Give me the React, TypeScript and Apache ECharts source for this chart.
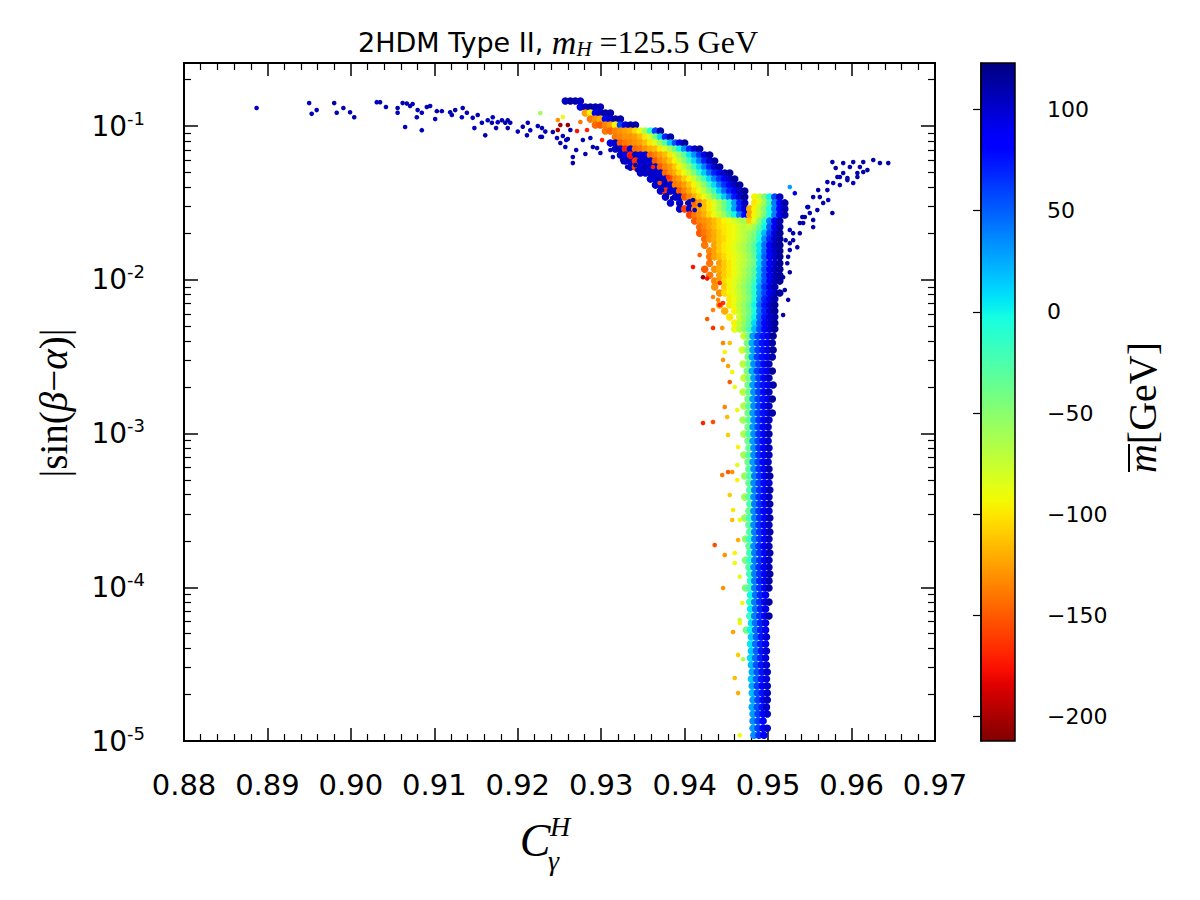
import React, { useEffect, useRef } from 'react';
import * as echarts from 'echarts';

type Pt = [number, number, number];
type Row = [number, number[], number[]];

// ---------- axis / colour-bar settings ----------
const X_MIN = 0.88;
const X_MAX = 0.97;
const X_STEP = 0.01;
const Y_MIN = 1e-5;
const Y_MAX = 0.257;
const CB_MIN = -212;
const CB_MAX = 123;
const cbTickValues = [-200, -150, -100, -50, 0, 50, 100];
const yDecades = [1e-5, 1e-4, 1e-3, 1e-2, 1e-1];
const yMinorMult = [2, 3, 4, 5, 6, 7, 8, 9];

const tailPoints: Pt[] = [
  [0.8887, 0.131, 105], [0.8950, 0.141, 105], [0.8953, 0.120, 108], [0.8959, 0.127, 105], [0.8980, 0.141, 110],
  [0.8983, 0.122, 105], [0.8991, 0.131, 108], [0.8999, 0.123, 105], [0.9004, 0.114, 110], [0.9031, 0.143, 105],
  [0.9035, 0.143, 108], [0.9042, 0.133, 105], [0.9056, 0.131, 110], [0.9056, 0.122, 105], [0.9065, 0.0985, 105],
  [0.9062, 0.141, 108], [0.9067, 0.140, 105], [0.9071, 0.135, 110], [0.9074, 0.139, 105], [0.9080, 0.127, 108],
  [0.9085, 0.122, 105], [0.9091, 0.133, 110], [0.9095, 0.135, 105], [0.9079, 0.114, 105], [0.9085, 0.094, 108],
  [0.9101, 0.111, 105], [0.9103, 0.125, 110], [0.9109, 0.125, 105], [0.9119, 0.123, 108], [0.9121, 0.118, 105],
  [0.9125, 0.127, 110], [0.9133, 0.114, 105], [0.9134, 0.131, 108], [0.9139, 0.122, 105], [0.9146, 0.113, 110],
  [0.9148, 0.097, 105], [0.9152, 0.118, 108], [0.9157, 0.105, 105], [0.9161, 0.087, 110], [0.9164, 0.109, 105],
  [0.9169, 0.105, 108], [0.9170, 0.114, 105], [0.9174, 0.097, 110], [0.9176, 0.106, 105], [0.9181, 0.109, 108],
  [0.9185, 0.105, 105], [0.9188, 0.109, 110], [0.9191, 0.105, 105], [0.9188, 0.097, 108], [0.9200, 0.092, 105],
  [0.9206, 0.099, 110], [0.9212, 0.105, 105], [0.9211, 0.087, 108], [0.9215, 0.094, 105], [0.9224, 0.100, 110],
  [0.9227, 0.085, 105], [0.9229, 0.097, 108], [0.9233, 0.092, 105], [0.9229, 0.085, 110],
];

const mixedPoints: Pt[] = [
  [0.9227, 0.1215, -60], [0.9254, 0.1144, -90], [0.9248, 0.1094, -130], [0.9251, 0.1015, -200],
  [0.9260, 0.1015, -205], [0.9271, 0.0928, -175], [0.9248, 0.0942, -200], [0.9275, 0.1062, -140],
  [0.9283, 0.0942, -170], [0.9301, 0.0811, -170], [0.9335, 0.0629, -175], [0.9362, 0.0541, -170],
  [0.9380, 0.0466, -165], [0.9370, 0.0426, -155], [0.9410, 0.0121, -175], [0.9422, 0.0104, -205],
  [0.9427, 0.0102, -175], [0.9442, 0.00953, -170], [0.9434, 0.00772, -135], [0.9446, 0.00706, -165],
  [0.9418, 0.01449, -150],
];

const innerBluePoints: Pt[] = [
  [0.9242, 0.0914, 110], [0.9247, 0.0836, 105], [0.9251, 0.0775, 110], [0.9254, 0.0861, 108], [0.9257, 0.0730, 105],
  [0.9260, 0.0823, 110], [0.9266, 0.0629, 108], [0.9266, 0.0574, 110], [0.9270, 0.0698, 105], [0.9263, 0.0942, 110],
  [0.9258, 0.0811, 108], [0.9278, 0.0811, 110], [0.9287, 0.0836, 105], [0.9290, 0.0730, 110], [0.9299, 0.0668, 108],
  [0.9311, 0.0698, 110], [0.9314, 0.0629, 105], [0.9325, 0.0601, 110], [0.9331, 0.0541, 108], [0.9343, 0.0517, 110],
  [0.9350, 0.0502, 105], [0.9281, 0.0658, 110], [0.9295, 0.0719, 108], [0.9319, 0.0719, 110], [0.9326, 0.0583, 105],
  [0.9341, 0.0557, 110], [0.9403, 0.0316, 108], [0.9410, 0.0330, 110], [0.9373, 0.0383, 105], [0.9379, 0.0356, 110],
  [0.9385, 0.0340, 108], [0.9394, 0.0306, 110], [0.9412, 0.0284, 105], [0.9418, 0.0306, 110],
];

const rightArmPoints: Pt[] = [
  [0.9526, 0.0401, 30], [0.9532, 0.0366, 90], [0.9547, 0.0297, 110], [0.9550, 0.0272, 105], [0.9554, 0.0245, 110],
  [0.9542, 0.0234, 105], [0.9538, 0.0201, 110], [0.9530, 0.0181, 110], [0.9526, 0.0156, 105], [0.9523, 0.0128, 110],
  [0.9518, 0.0104, 110], [0.9562, 0.0345, 110], [0.9566, 0.0316, 110], [0.9572, 0.0330, 105], [0.9577, 0.0272, 110],
  [0.9559, 0.0284, 110], [0.9571, 0.0383, 110], [0.9578, 0.0426, 105], [0.9583, 0.0466, 110], [0.9590, 0.0495, 110],
  [0.9595, 0.0459, 110], [0.9602, 0.0426, 105], [0.9607, 0.0466, 110], [0.9614, 0.0502, 110], [0.9586, 0.0413, 110],
  [0.9554, 0.0220, 110], [0.9535, 0.0163, 110], [0.9526, 0.0211, 105], [0.9541, 0.0256, 110], [0.9577, 0.0583, 110],
  [0.9581, 0.0533, 110], [0.9586, 0.0466, 105], [0.9590, 0.0574, 110], [0.9595, 0.0445, 110], [0.9598, 0.0541, 110],
  [0.9602, 0.0583, 110], [0.9607, 0.0495, 110], [0.9610, 0.0541, 105], [0.9614, 0.0583, 110], [0.9619, 0.0517, 110],
  [0.9626, 0.0601, 110], [0.9634, 0.0574, 110], [0.9644, 0.0574, 110], [0.9571, 0.0432, 110], [0.9560, 0.0383, 110],
  [0.9554, 0.0345, 110], [0.9548, 0.0297, 105], [0.9544, 0.0256, 110], [0.9538, 0.0234, 110], [0.9530, 0.0201, 110],
  [0.9526, 0.0173, 110], [0.9524, 0.0141, 110], [0.9526, 0.0112, 110], [0.9520, 0.00858, 110], [0.9524, 0.0074, 110],
  [0.9518, 0.0059, 110], [0.9521, 0.0181, 110],
];

const spineOutliers: Pt[] = [
  [0.9434, 0.00636, -135], [0.9427, 0.00555, -150], [0.9442, 0.00685, -170], [0.9440, 0.00740, -135],
  [0.9434, 0.00486, -165], [0.9445, 0.00486, -130], [0.9446, 0.00388, -135], [0.9448, 0.00339, -95],
  [0.9454, 0.00388, -115], [0.9446, 0.00301, -130], [0.9452, 0.00275, -125], [0.9457, 0.00251, -95],
  [0.9454, 0.00216, -150], [0.9460, 0.00201, -90], [0.9448, 0.00149, -135], [0.9451, 0.00128, -115],
  [0.9422, 0.00117, -170], [0.9434, 0.00119, -155], [0.9452, 0.000978, -110], [0.9463, 0.00142, -90],
  [0.9464, 0.000817, -95], [0.9463, 0.000624, -85], [0.9445, 0.000537, -140], [0.9452, 0.000562, -150],
  [0.9457, 0.000562, -130], [0.9463, 0.000498, -95], [0.9454, 0.000398, -110], [0.9458, 0.000318, -100],
  [0.9457, 0.000274, -115], [0.9466, 0.000274, -90], [0.9464, 0.000203, -120], [0.9436, 0.000188, -155],
  [0.9448, 0.000162, -130], [0.9460, 0.000167, -95], [0.9460, 0.000144, -90], [0.9466, 0.000117, -85],
  [0.9446, 0.0000989, -130], [0.9469, 0.0000790, -90], [0.9466, 0.0000612, -70], [0.9458, 0.0000512, -125],
  [0.9466, 0.0000585, -95], [0.9464, 0.0000363, -110], [0.9470, 0.0000340, -65], [0.9460, 0.0000257, -115],
  [0.9464, 0.0000205, -120], [0.9466, 0.0000109, -90],
];

// dense upper arc and fork: [y, x values, mbar values]
const arcRows: Row[] = [
  [0.1454, [0.9257, 0.9263, 0.9269, 0.9275], [105, 110, 110, 105]],
  [0.1329, [0.9275, 0.9281, 0.9287, 0.9293, 0.9299], [95, 105, 110, 110, 105]],
  [0.1215, [0.9281, 0.9287, 0.9293, 0.9299, 0.9305, 0.9311], [-125, -95, 90, 105, 110, 110]],
  [0.1110, [0.9287, 0.9293, 0.9299, 0.9305, 0.9311, 0.9317, 0.9323], [-140, -130, -120, 80, 100, 110, 110]],
  [0.1015, [0.9293, 0.9299, 0.9305, 0.9311, 0.9317, 0.9323, 0.9329, 0.9335, 0.9341], [-145, -150, -135, -125, -95, 60, 95, 110, 110]],
  [0.0928, [0.9305, 0.9311, 0.9317, 0.9323, 0.9329, 0.9335, 0.9341, 0.9347, 0.9353, 0.9359, 0.9365, 0.9371], [-140, -145, -135, -130, -125, -120, -105, -90, -60, -10, 60, 110]],
  [0.0848, [0.9317, 0.9323, 0.9329, 0.9335, 0.9341, 0.9347, 0.9353, 0.9359, 0.9365, 0.9371, 0.9377, 0.9383], [-140, -135, -130, -130, -125, -115, -100, -80, -45, 10, 70, 110]],
  [0.0775, [0.9311, 0.9317, 0.9323, 0.9329, 0.9335, 0.9341, 0.9347, 0.9353, 0.9359, 0.9365, 0.9371, 0.9377, 0.9383, 0.9389, 0.9394, 0.9400], [95, 100, -150, -140, -135, -130, -125, -115, -100, -85, -60, -25, 15, 55, 90, 115]],
  [0.0709, [0.9317, 0.9323, 0.9329, 0.9335, 0.9341, 0.9347, 0.9353, 0.9359, 0.9365, 0.9371, 0.9377, 0.9383, 0.9389, 0.9394, 0.9400, 0.9406, 0.9412, 0.9418], [100, 100, -170, 100, -145, -140, -130, -120, -115, -100, -85, -60, -35, 0, 35, 70, 100, 115]],
  [0.0648, [0.9323, 0.9329, 0.9335, 0.9341, 0.9347, 0.9353, 0.9359, 0.9365, 0.9371, 0.9377, 0.9383, 0.9389, 0.9394, 0.9400, 0.9406, 0.9412, 0.9418, 0.9424, 0.9430], [100, 95, -170, 105, 95, 100, -145, -135, -125, -115, -100, -80, -55, -30, 5, 35, 65, 95, 115]],
  [0.0592, [0.9329, 0.9335, 0.9341, 0.9347, 0.9353, 0.9359, 0.9365, 0.9371, 0.9377, 0.9383, 0.9389, 0.9394, 0.9400, 0.9406, 0.9412, 0.9418, 0.9424, 0.9430, 0.9436], [100, 100, -165, 100, 100, 100, -150, -135, -125, -110, -95, -75, -50, -20, 10, 40, 70, 100, 115]],
  [0.0541, [0.9335, 0.9341, 0.9347, 0.9353, 0.9359, 0.9365, 0.9371, 0.9377, 0.9383, 0.9389, 0.9394, 0.9400, 0.9406, 0.9412, 0.9418, 0.9424, 0.9430, 0.9436, 0.9442], [100, -160, 100, 105, 100, 100, -150, -135, -125, -110, -95, -75, -50, -20, 10, 40, 70, 100, 115]],
  [0.0495, [0.9347, 0.9353, 0.9359, 0.9365, 0.9371, 0.9377, 0.9383, 0.9389, 0.9394, 0.9400, 0.9406, 0.9412, 0.9418, 0.9424, 0.9430, 0.9436, 0.9442, 0.9448, 0.9454], [100, 100, 105, 100, 100, -145, -130, -120, -105, -90, -70, -45, -15, 15, 45, 70, 90, 105, 115]],
  [0.0452, [0.9359, 0.9365, 0.9371, 0.9377, 0.9383, 0.9389, 0.9394, 0.9400, 0.9406, 0.9412, 0.9418, 0.9424, 0.9430, 0.9436, 0.9442, 0.9448, 0.9454, 0.9460], [100, 100, 105, 100, -155, -135, -125, -110, -95, -75, -50, -20, 10, 40, 65, 85, 105, 115]],
  [0.0413, [0.9365, 0.9371, 0.9377, 0.9383, 0.9389, 0.9394, 0.9400, 0.9406, 0.9412, 0.9418, 0.9424, 0.9430, 0.9436, 0.9442, 0.9448, 0.9454, 0.9460, 0.9466], [100, 100, 105, 100, -140, -135, -125, -110, -95, -75, -50, -20, 10, 40, 65, 85, 105, 115]],
  [0.0378, [0.9371, 0.9377, 0.9383, 0.9389, 0.9394, 0.9400, 0.9406, 0.9412, 0.9418, 0.9424, 0.9430, 0.9436, 0.9442, 0.9448, 0.9454, 0.9460, 0.9466, 0.9472], [100, -165, 100, 100, -150, -135, -120, -105, -90, -70, -45, -15, 15, 45, 70, 90, 105, 115]],
  [0.0345, [0.9377, 0.9389, 0.9394, 0.9400, 0.9406, 0.9412, 0.9418, 0.9424, 0.9430, 0.9436, 0.9442, 0.9448, 0.9454, 0.9460, 0.9466, 0.9472, 0.9484, 0.9490, 0.9496, 0.9502, 0.9508, 0.9514], [100, 100, 105, -150, -135, -120, -105, -90, -70, -45, -15, 15, 45, 75, 100, 115, -95, -80, -45, 0, 60, 105]],
  [0.0316, [0.9383, 0.9394, 0.9406, 0.9412, 0.9418, 0.9424, 0.9430, 0.9436, 0.9442, 0.9448, 0.9454, 0.9460, 0.9466, 0.9472, 0.9484, 0.9490, 0.9496, 0.9502, 0.9508, 0.9514, 0.9520], [100, 100, 105, -145, -130, -115, -100, -85, -65, -40, -10, 30, 70, 105, -100, -85, -60, -20, 40, 85, 110]],
  [0.0289, [0.9394, 0.9400, 0.9406, 0.9412, 0.9418, 0.9424, 0.9430, 0.9436, 0.9442, 0.9448, 0.9454, 0.9460, 0.9466, 0.9472, 0.9478, 0.9484, 0.9490, 0.9496, 0.9502, 0.9508, 0.9514, 0.9520], [100, -160, 100, -140, -125, -115, -100, -85, -65, -40, -10, 30, 70, 100, -120, -95, -75, -45, -5, 40, 85, 110]],
  [0.0264, [0.9406, 0.9412, 0.9418, 0.9424, 0.9430, 0.9436, 0.9442, 0.9448, 0.9454, 0.9460, 0.9466, 0.9472, 0.9478, 0.9484, 0.9490, 0.9496, 0.9502, 0.9508, 0.9514, 0.9520], [-160, -140, -130, -120, -105, -90, -75, -55, -30, 0, 40, 80, -125, -95, -75, -45, -5, 40, 85, 110]],
];

const mergeRows: Row[] = [
  [0.0241, [0.9412, 0.9418, 0.9424, 0.9430, 0.9436, 0.9442, 0.9448, 0.9454, 0.9460, 0.9466, 0.9472, 0.9478, 0.9484, 0.9490, 0.9496, 0.9502, 0.9508, 0.9514], [-150, -135, -130, -125, -115, -105, -95, -90, -80, -70, -60, -110, -85, -50, -10, 40, 85, 110]],
  [0.0220, [0.9418, 0.9424, 0.9430, 0.9436, 0.9442, 0.9448, 0.9454, 0.9460, 0.9466, 0.9472, 0.9478, 0.9484, 0.9490, 0.9496, 0.9502, 0.9508, 0.9514], [-145, -135, -125, -115, -105, -100, -95, -90, -80, -70, -75, -60, -35, 0, 50, 90, 110]],
  [0.0201, [0.9418, 0.9424, 0.9430, 0.9436, 0.9442, 0.9448, 0.9454, 0.9460, 0.9466, 0.9472, 0.9478, 0.9484, 0.9490, 0.9496, 0.9502, 0.9508, 0.9514], [-150, -140, -130, -120, -110, -100, -95, -90, -80, -70, -60, -45, -15, 20, 60, 95, 115]],
  [0.0184, [0.9424, 0.9430, 0.9436, 0.9442, 0.9448, 0.9454, 0.9460, 0.9466, 0.9472, 0.9478, 0.9484, 0.9490, 0.9496, 0.9502, 0.9508, 0.9514], [-145, -130, -120, -110, -105, -95, -90, -80, -70, -55, -40, -5, 35, 70, 100, 115]],
  [0.0168, [0.9424, 0.9436, 0.9442, 0.9448, 0.9454, 0.9460, 0.9466, 0.9472, 0.9478, 0.9484, 0.9490, 0.9496, 0.9502, 0.9508, 0.9514], [-140, -125, -110, -100, -95, -85, -75, -65, -50, -30, 5, 45, 80, 105, 115]],
  [0.0154, [0.9430, 0.9436, 0.9442, 0.9448, 0.9454, 0.9460, 0.9466, 0.9472, 0.9478, 0.9484, 0.9490, 0.9496, 0.9502, 0.9508, 0.9514], [-135, -125, -110, -100, -95, -85, -75, -65, -50, -30, 5, 45, 80, 100, 115]],
  [0.0141, [0.9430, 0.9436, 0.9442, 0.9448, 0.9454, 0.9460, 0.9466, 0.9472, 0.9478, 0.9484, 0.9490, 0.9496, 0.9502, 0.9508, 0.9514], [-140, -125, -115, -105, -95, -90, -80, -70, -55, -35, 10, 50, 80, 100, 115]],
  [0.0128, [0.9430, 0.9442, 0.9448, 0.9454, 0.9460, 0.9466, 0.9472, 0.9478, 0.9484, 0.9490, 0.9496, 0.9502, 0.9508, 0.9514], [-140, -125, -110, -100, -90, -80, -70, -55, -40, 10, 50, 80, 100, 115]],
  [0.0117, [0.9424, 0.9436, 0.9442, 0.9448, 0.9454, 0.9460, 0.9466, 0.9472, 0.9478, 0.9484, 0.9490, 0.9496, 0.9502, 0.9508, 0.9514], [-150, -130, -120, -110, -100, -90, -80, -65, -50, -30, 15, 55, 85, 105, 115]],
  [0.0107, [0.9430, 0.9442, 0.9448, 0.9454, 0.9460, 0.9466, 0.9472, 0.9478, 0.9484, 0.9490, 0.9496, 0.9502, 0.9508, 0.9514], [-140, -125, -110, -100, -90, -80, -65, -50, -30, 15, 55, 85, 105, 115]],
  [0.00981, [0.9436, 0.9442, 0.9448, 0.9454, 0.9460, 0.9466, 0.9472, 0.9478, 0.9484, 0.9490, 0.9496, 0.9502, 0.9508, 0.9514], [-135, -125, -105, -95, -85, -75, -60, -45, -20, 20, 55, 85, 105, 115]],
  [0.00897, [0.9436, 0.9448, 0.9454, 0.9460, 0.9466, 0.9472, 0.9478, 0.9484, 0.9490, 0.9496, 0.9502, 0.9508], [-130, -110, -95, -85, -70, -55, -40, -10, 30, 65, 95, 110]],
  [0.00820, [0.9442, 0.9448, 0.9454, 0.9460, 0.9466, 0.9472, 0.9478, 0.9484, 0.9490, 0.9496, 0.9502, 0.9508, 0.9514], [-135, -105, -95, -85, -75, -60, -40, -10, 30, 60, 85, 105, 115]],
  [0.00750, [0.9454, 0.9460, 0.9466, 0.9472, 0.9478, 0.9484, 0.9490, 0.9496, 0.9502, 0.9508], [-100, -90, -75, -60, -45, -10, 35, 70, 95, 110]],
  [0.00685, [0.9442, 0.9454, 0.9460, 0.9466, 0.9472, 0.9478, 0.9484, 0.9490, 0.9496, 0.9502, 0.9508], [-125, -100, -90, -70, -55, -35, 0, 45, 75, 100, 115]],
  [0.00626, [0.9448, 0.9460, 0.9466, 0.9472, 0.9478, 0.9484, 0.9490, 0.9496, 0.9502, 0.9508], [-120, -95, -75, -55, -40, -5, 40, 70, 100, 115]],
  [0.00572, [0.9454, 0.9466, 0.9472, 0.9478, 0.9484, 0.9490, 0.9496, 0.9502, 0.9508], [-100, -80, -55, -35, 0, 45, 75, 100, 110]],
  [0.00523, [0.9460, 0.9466, 0.9472, 0.9478, 0.9484, 0.9490, 0.9496, 0.9502, 0.9508], [-95, -75, -55, -30, 10, 50, 80, 100, 115]],
  [0.00478, [0.9460, 0.9466, 0.9472, 0.9478, 0.9484, 0.9490, 0.9496, 0.9502, 0.9508], [-90, -70, -50, -20, 20, 55, 80, 100, 115]],
];

const spineRows: Row[] = [
  [0.004306, [0.9471, 0.9477, 0.9482, 0.9488, 0.9494, 0.9500, 0.9506], [-75, -40, 30, 60, 75, 90, 115]],
  [0.003879, [0.9475, 0.9481, 0.9487, 0.9493, 0.9499, 0.9505], [-45, 25, 55, 75, 90, 110]],
  [0.003492, [0.9469, 0.9476, 0.9482, 0.9488, 0.9494, 0.9500, 0.9506], [-80, -40, 30, 60, 75, 95, 115]],
  [0.003145, [0.9476, 0.9481, 0.9487, 0.9493, 0.9499, 0.9505], [-45, 25, 60, 75, 90, 110]],
  [0.002831, [0.9470, 0.9477, 0.9483, 0.9489, 0.9495, 0.9501], [-70, -35, 35, 60, 80, 105]],
  [0.002549, [0.9475, 0.9481, 0.9487, 0.9493, 0.9499, 0.9505], [-45, 25, 60, 75, 90, 115]],
  [0.002296, [0.9471, 0.9477, 0.9483, 0.9489, 0.9495, 0.9501], [-75, -40, 30, 60, 80, 105]],
  [0.002067, [0.9476, 0.9482, 0.9488, 0.9494, 0.9500, 0.9506], [-40, 30, 60, 75, 90, 110]],
  [0.001862, [0.9470, 0.9477, 0.9483, 0.9489, 0.9495, 0.9501], [-70, -35, 35, 60, 80, 105]],
  [0.001676, [0.9476, 0.9482, 0.9488, 0.9494, 0.9500, 0.9505], [-40, 30, 60, 75, 90, 115]],
  [0.001510, [0.9471, 0.9477, 0.9483, 0.9489, 0.9495, 0.9501], [-65, -30, 35, 60, 80, 105]],
  [0.001359, [0.9476, 0.9482, 0.9488, 0.9494, 0.9500, 0.9505], [-40, 30, 60, 75, 95, 110]],
  [0.001224, [0.9470, 0.9477, 0.9483, 0.9489, 0.9495, 0.9501], [-60, -30, 35, 65, 85, 105]],
  [0.001102, [0.9476, 0.9482, 0.9488, 0.9494, 0.9500], [-40, 30, 60, 80, 100]],
  [0.000992, [0.9471, 0.9477, 0.9483, 0.9489, 0.9495, 0.9501], [-65, -25, 35, 65, 85, 110]],
  [0.000894, [0.9476, 0.9482, 0.9488, 0.9494, 0.9500], [-40, 30, 60, 80, 100]],
  [0.000805, [0.9477, 0.9483, 0.9489, 0.9495, 0.9501], [-35, 35, 65, 85, 105]],
  [0.000725, [0.9471, 0.9477, 0.9483, 0.9489, 0.9495, 0.9501], [-60, -30, 35, 65, 85, 105]],
  [0.000653, [0.9476, 0.9482, 0.9488, 0.9494, 0.9500], [-40, 30, 60, 80, 100]],
  [0.000588, [0.9477, 0.9483, 0.9489, 0.9495, 0.9501], [-30, 35, 65, 85, 110]],
  [0.000529, [0.9472, 0.9478, 0.9484, 0.9490, 0.9496, 0.9502], [-55, -25, 40, 65, 85, 110]],
  [0.000476, [0.9477, 0.9483, 0.9489, 0.9495, 0.9501], [-35, 35, 60, 85, 100]],
  [0.000429, [0.9478, 0.9484, 0.9490, 0.9496, 0.9502], [-25, 40, 65, 85, 110]],
  [0.000386, [0.9472, 0.9477, 0.9483, 0.9489, 0.9495, 0.9501], [-60, -30, 35, 65, 85, 105]],
  [0.000348, [0.9478, 0.9484, 0.9490, 0.9496, 0.9502], [-25, 40, 65, 85, 110]],
  [0.000313, [0.9477, 0.9483, 0.9489, 0.9495, 0.9501], [-35, 35, 65, 85, 100]],
  [0.000282, [0.9472, 0.9478, 0.9484, 0.9490, 0.9496, 0.9502], [-55, -20, 40, 65, 85, 110]],
  [0.000254, [0.9477, 0.9483, 0.9489, 0.9495, 0.9501], [-30, 35, 65, 85, 105]],
  [0.000229, [0.9478, 0.9484, 0.9490, 0.9496, 0.9502], [-25, 40, 65, 85, 110]],
  [0.000206, [0.9473, 0.9478, 0.9484, 0.9490, 0.9496, 0.9501], [-50, -15, 40, 65, 85, 105]],
  [0.000185, [0.9477, 0.9483, 0.9489, 0.9495, 0.9501], [-30, 35, 65, 85, 105]],
  [0.000167, [0.9478, 0.9484, 0.9490, 0.9496, 0.9502], [-20, 40, 65, 85, 110]],
  [0.000150, [0.9473, 0.9478, 0.9484, 0.9490, 0.9496, 0.9501], [-45, -15, 40, 65, 85, 105]],
  [0.000135, [0.9477, 0.9483, 0.9489, 0.9495, 0.9501], [-25, 35, 65, 85, 105]],
  [0.000122, [0.9478, 0.9484, 0.9490, 0.9496, 0.9502], [-20, 40, 65, 85, 110]],
  [0.000110, [0.9479, 0.9484, 0.9490, 0.9496, 0.9501], [-10, 40, 70, 90, 110]],
  [0.0000989, [0.9473, 0.9478, 0.9484, 0.9490, 0.9496, 0.9501], [-45, -20, 40, 65, 85, 110]],
  [0.0000890, [0.9479, 0.9485, 0.9491, 0.9497], [0, 45, 70, 90]],
  [0.0000802, [0.9478, 0.9484, 0.9490, 0.9496, 0.9501], [-15, 40, 65, 85, 110]],
  [0.0000722, [0.9479, 0.9485, 0.9491, 0.9497], [5, 45, 70, 95]],
  [0.0000650, [0.9478, 0.9484, 0.9490, 0.9496, 0.9501], [-15, 40, 65, 85, 110]],
  [0.0000585, [0.9480, 0.9485, 0.9491, 0.9497], [10, 45, 70, 95]],
  [0.0000527, [0.9474, 0.9479, 0.9485, 0.9491, 0.9497], [-40, 0, 45, 70, 90]],
  [0.0000475, [0.9480, 0.9486, 0.9492, 0.9498], [15, 50, 75, 100]],
  [0.0000427, [0.9479, 0.9485, 0.9491, 0.9497], [5, 45, 70, 90]],
  [0.0000385, [0.9480, 0.9486, 0.9492, 0.9498], [15, 50, 75, 100]],
  [0.0000347, [0.9479, 0.9485, 0.9491, 0.9497], [10, 45, 70, 95]],
  [0.0000312, [0.9480, 0.9486, 0.9492, 0.9498], [20, 55, 75, 100]],
  [0.0000281, [0.9481, 0.9487, 0.9493, 0.9499], [25, 55, 75, 100]],
  [0.0000253, [0.9480, 0.9486, 0.9492, 0.9498], [15, 50, 75, 95]],
  [0.0000228, [0.9481, 0.9487, 0.9493, 0.9499], [25, 60, 80, 100]],
  [0.0000205, [0.9481, 0.9487, 0.9493, 0.9499], [20, 55, 75, 100]],
  [0.0000185, [0.9482, 0.9488, 0.9494, 0.9499], [30, 60, 80, 105]],
  [0.0000166, [0.9481, 0.9487, 0.9493, 0.9498], [25, 55, 75, 100]],
  [0.0000150, [0.9482, 0.9488, 0.9494, 0.9499], [30, 60, 80, 100]],
  [0.0000135, [0.9482, 0.9488, 0.9494], [35, 60, 80]],
  [0.0000121, [0.9482, 0.9488, 0.9494, 0.9499], [30, 60, 80, 100]],
  [0.0000109, [0.9483, 0.9489, 0.9495], [35, 65, 85]],
];

// ---------- helpers ----------
const rowsToPoints = (rows: Row[]): Pt[] => {
  const out: Pt[] = [];
  rows.forEach(([y, xs, ms]) => xs.forEach((x, i) => out.push([x, y, ms[i]])));
  return out;
};

// matplotlib "jet" segment data
const JR = [[0, 0], [0.35, 0], [0.66, 1], [0.89, 1], [1, 0.5]];
const JG = [[0, 0], [0.125, 0], [0.375, 1], [0.64, 1], [0.91, 0], [1, 0]];
const JB = [[0, 0.5], [0.11, 1], [0.34, 1], [0.65, 0], [1, 0]];
const seg = (t: number, p: number[][]) => {
  for (let i = 1; i < p.length; i++) {
    if (t <= p[i][0]) {
      const [t0, v0] = p[i - 1];
      const [t1, v1] = p[i];
      return v0 + ((t - t0) / (t1 - t0)) * (v1 - v0);
    }
  }
  return p[p.length - 1][1];
};
const jet = (t: number) => {
  const c = (v: number) => Math.round(Math.max(0, Math.min(1, v)) * 255);
  return `rgb(${c(seg(t, JR))},${c(seg(t, JG))},${c(seg(t, JB))})`;
};
const N_COL = 49;
// low mbar (bottom of bar) is dark red, high mbar is dark blue
const cbColors = Array.from({ length: N_COL }, (_, i) => jet(1 - i / (N_COL - 1)));

const yMinorTicks: number[] = [];
yDecades.forEach((d) => yMinorMult.forEach((m) => { if (d * m < Y_MAX) yMinorTicks.push(d * m); }));

const GRID = { left: 184, top: 63, width: 751, height: 678 };
const CBAR = { left: 981, top: 63, width: 34, height: 678 };
const SERIF = '"Liberation Serif", "DejaVu Serif", serif';
const SANS = '"DejaVu Sans", sans-serif';

export default function App() {
  const ref = useRef<HTMLDivElement>(null);

  useEffect(() => {
    if (!ref.current) return;
    const chart = echarts.init(ref.current, undefined, { renderer: 'svg' });

    const axisLineStyle = { color: '#000', width: 2 };
    const tickStyle = { color: '#000', width: 1.5 };

    const yLabelFormatter = (v: number) => {
      const e = Math.log10(v);
      const r = Math.round(e);
      if (Math.abs(e - r) > 1e-6) return '';
      return `{b|10}{s|${r}}`;
    };

    const denseData = [...rowsToPoints(arcRows), ...rowsToPoints(mergeRows), ...rowsToPoints(spineRows)];
    const sparseData = [...tailPoints, ...innerBluePoints, ...rightArmPoints, ...mixedPoints, ...spineOutliers];

    const option: any = {
      animation: false,
      backgroundColor: '#fff',
      grid: [
        { ...GRID, show: true, borderColor: '#000', borderWidth: 2, backgroundColor: 'transparent' },
        { ...CBAR },
      ],
      xAxis: [
        {
          gridIndex: 0, type: 'value', min: X_MIN, max: X_MAX, interval: X_STEP, position: 'bottom',
          axisLine: { show: true, onZero: false, lineStyle: axisLineStyle },
          axisTick: { show: true, inside: true, length: 13, lineStyle: tickStyle },
          minorTick: { show: true, splitNumber: 5, length: 7, lineStyle: { color: '#000', width: 1.2 } },
          splitLine: { show: false },
          axisLabel: {
            margin: 29, fontSize: 29, color: '#000', fontFamily: SANS,
            formatter: (v: number) => v.toFixed(2),
          },
        },
        {
          gridIndex: 0, type: 'value', min: X_MIN, max: X_MAX, interval: X_STEP, position: 'top',
          axisLine: { show: true, onZero: false, lineStyle: axisLineStyle },
          axisTick: { show: true, inside: true, length: 13, lineStyle: tickStyle },
          minorTick: { show: true, splitNumber: 5, length: 7, lineStyle: { color: '#000', width: 1.2 } },
          splitLine: { show: false },
          axisLabel: { show: false },
        },
        { gridIndex: 1, type: 'value', min: 0, max: 1, show: false },
      ],
      yAxis: [
        {
          gridIndex: 0, type: 'log', logBase: 10, min: Y_MIN, max: Y_MAX, position: 'left',
          axisLine: { show: true, onZero: false, lineStyle: axisLineStyle },
          axisTick: { show: true, inside: true, length: 14, lineStyle: tickStyle },
          splitLine: { show: false },
          minorTick: { show: false },
          axisLabel: {
            margin: 39, color: '#000', formatter: yLabelFormatter,
            rich: {
              b: { fontSize: 28, fontFamily: SANS, color: '#000', lineHeight: 34 },
              s: { fontSize: 18, fontFamily: SANS, color: '#000', lineHeight: 12, verticalAlign: 'top' },
            },
          },
        },
        {
          gridIndex: 0, type: 'log', logBase: 10, min: Y_MIN, max: Y_MAX, position: 'left',
          axisLine: { show: false },
          axisTick: { show: true, inside: true, length: 7, lineStyle: { color: '#000', width: 1.2 }, customValues: yMinorTicks },
          axisLabel: { show: false },
          splitLine: { show: false },
        },
        {
          gridIndex: 0, type: 'log', logBase: 10, min: Y_MIN, max: Y_MAX, position: 'right',
          axisLine: { show: true, onZero: false, lineStyle: axisLineStyle },
          axisTick: { show: true, inside: true, length: 14, lineStyle: tickStyle },
          axisLabel: { show: false },
          splitLine: { show: false },
        },
        {
          gridIndex: 0, type: 'log', logBase: 10, min: Y_MIN, max: Y_MAX, position: 'right',
          axisLine: { show: false },
          axisTick: { show: true, inside: true, length: 7, lineStyle: { color: '#000', width: 1.2 }, customValues: yMinorTicks },
          axisLabel: { show: false },
          splitLine: { show: false },
        },
        {
          gridIndex: 1, type: 'value', min: CB_MIN, max: CB_MAX, position: 'right', z: 10,
          axisLine: { show: true, lineStyle: { color: '#000', width: 1.5 } },
          axisTick: { show: true, inside: true, length: 8, lineStyle: { color: '#000', width: 1.2 }, customValues: cbTickValues },
          axisLabel: {
            customValues: cbTickValues, margin: 32, fontSize: 22, color: '#000', fontFamily: SANS,
            formatter: (v: number) => (v < 0 ? '\u2212' + Math.abs(v) : String(v)),
          },
          splitLine: { show: false },
        },
      ],
      visualMap: {
        type: 'continuous', show: false, min: CB_MIN, max: CB_MAX, dimension: 2,
        seriesIndex: [0, 1], inRange: { color: cbColors },
      },
      series: [
        {
          name: 'dense', type: 'scatter', xAxisIndex: 0, yAxisIndex: 0,
          symbol: 'circle', symbolSize: 7.6, data: denseData, itemStyle: { opacity: 1 }, silent: true,
        },
        {
          name: 'sparse', type: 'scatter', xAxisIndex: 0, yAxisIndex: 0,
          symbol: 'circle', symbolSize: 4.6, data: sparseData, itemStyle: { opacity: 1 }, silent: true,
        },
      ],
      graphic: [
        {
          type: 'rect', z: -1, silent: true,
          shape: { x: CBAR.left, y: CBAR.top, width: CBAR.width, height: CBAR.height },
          style: {
            fill: new echarts.graphic.LinearGradient(0, 1, 0, 0,
              cbColors.map((c, i) => ({ offset: i / (N_COL - 1), color: c }))),
            stroke: '#000', lineWidth: 1.5,
          },
        },
        {
          type: 'text', x: 558, y: 42, silent: true,
          style: {
            text: '{a|2HDM Type II, }{m|m}{h|H}{b| =125.5 GeV}',
            align: 'center', verticalAlign: 'middle',
            rich: {
              a: { fontFamily: SANS, fontSize: 27, color: '#000', lineHeight: 34 },
              m: { fontFamily: SERIF, fontStyle: 'italic', fontSize: 34, color: '#000', lineHeight: 34 },
              h: { fontFamily: SERIF, fontStyle: 'italic', fontSize: 21, color: '#000', lineHeight: 16, verticalAlign: 'bottom' },
              b: { fontFamily: SERIF, fontSize: 32, color: '#000', lineHeight: 34 },
            },
          },
        },
        {
          type: 'text', x: 53, y: 403, rotation: Math.PI / 2, silent: true,
          style: {
            text: '{n||sin(}{g|\u03b2}{n|\u2212}{g|\u03b1}{n|)|}',
            align: 'center', verticalAlign: 'middle',
            rich: {
              n: { fontFamily: SERIF, fontSize: 39, color: '#000' },
              g: { fontFamily: SERIF, fontStyle: 'italic', fontSize: 39, color: '#000' },
            },
          },
        },
        {
          type: 'text', x: 535, y: 840, silent: true,
          style: { text: 'C', fontFamily: SERIF, fontStyle: 'italic', fontSize: 46, fill: '#000', align: 'center', verticalAlign: 'middle' },
        },
        {
          type: 'text', x: 550, y: 826, silent: true,
          style: { text: 'H', fontFamily: SERIF, fontStyle: 'italic', fontSize: 28, fill: '#000', align: 'left', verticalAlign: 'middle' },
        },
        {
          type: 'text', x: 548, y: 860, silent: true,
          style: { text: '\u03b3', fontFamily: SERIF, fontStyle: 'italic', fontSize: 28, fill: '#000', align: 'left', verticalAlign: 'middle' },
        },
        {
          type: 'group', x: 1142, y: 405, rotation: Math.PI / 2, silent: true,
          children: [
            {
              type: 'text', x: -68, y: 0,
              style: {
                text: '{i|m}{n|[GeV]}', align: 'left', verticalAlign: 'middle',
                rich: {
                  i: { fontFamily: SERIF, fontStyle: 'italic', fontSize: 40, color: '#000' },
                  n: { fontFamily: SERIF, fontSize: 40, color: '#000' },
                },
              },
            },
            {
              type: 'line', shape: { x1: -67, y1: -13, x2: -39, y2: -13 },
              style: { stroke: '#000', lineWidth: 2 },
            },
          ],
        },
      ],
    };

    chart.setOption(option);
    return () => chart.dispose();
  }, []);

  return (
    <div
      ref={ref}
      style={{ position: 'fixed', left: 0, top: 0, width: 1200, height: 900, background: '#fff' }}
    />
  );
}
